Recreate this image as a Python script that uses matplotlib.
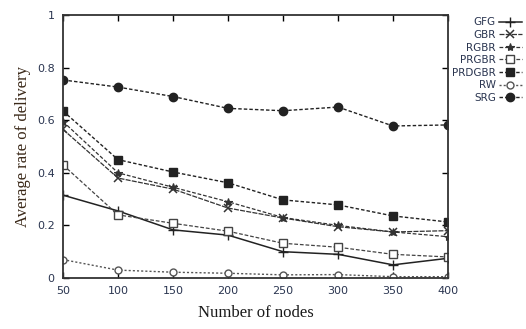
import matplotlib
matplotlib.use('Agg')
import matplotlib.pyplot as plt

nodes = [50, 100, 150, 200, 250, 300, 350, 400]
gfg = [0.315, 0.255, 0.183, 0.163, 0.100, 0.090, 0.050, 0.075]
gbr = [0.565, 0.380, 0.338, 0.266, 0.228, 0.195, 0.175, 0.180]
rgbr = [0.595, 0.400, 0.345, 0.290, 0.230, 0.200, 0.175, 0.157]
prgbr = [0.430, 0.240, 0.208, 0.178, 0.132, 0.117, 0.090, 0.080]
prdgbr = [0.635, 0.450, 0.403, 0.362, 0.297, 0.278, 0.236, 0.213]
rw = [0.070, 0.030, 0.022, 0.018, 0.012, 0.013, 0.005, 0.005]
srg = [0.753, 0.726, 0.690, 0.645, 0.636, 0.650, 0.578, 0.582]

xticks = [50, 100, 150, 200, 250, 300, 350, 400]
yticks = [0, 0.2, 0.4, 0.6, 0.8, 1]
yticklabels = ['0', '0.2', '0.4', '0.6', '0.8', '1']

narrow = ['Liberation Sans Narrow', 'DejaVu Sans']
txtcol = '#2a3550'

fig = plt.figure(figsize=(5.26, 3.29), dpi=100)
ax = fig.add_axes([63 / 526, 1 - 278 / 329, (448 - 63) / 526, (278 - 15) / 329])

ax.plot(nodes, gfg, color='#222222', lw=1.1, ls='-', marker='+', ms=7, mew=1, label='GFG')
ax.plot(nodes, gbr, color='#333333', lw=0.9, ls=(0, (4, 1)), marker='x', ms=6, mew=1.1, label='GBR')
ax.plot(nodes, rgbr, color='#333333', lw=0.9, ls=(0, (3, 1.5)), marker='*', ms=6, mew=0.8, label='RGBR')
ax.plot(nodes, prgbr, color='#444444', lw=0.9, ls=(0, (3, 1.5)), marker='s', ms=6, mfc='white', mew=1, label='PRGBR')
ax.plot(nodes, prdgbr, color='#222222', lw=1.0, ls=(0, (2.5, 1.5)), marker='s', ms=6, label='PRDGBR')
ax.plot(nodes, rw, color='#555555', lw=1.0, ls=(0, (1.5, 1.5)), marker='o', ms=5, mfc='white', mew=1, label='RW')
ax.plot(nodes, srg, color='#222222', lw=1.0, ls=(0, (2.5, 1.5)), marker='o', ms=6, label='SRG')

ax.set_xlim(50, 400)
ax.set_ylim(0, 1)
ax.set_xticks(xticks)
ax.set_yticks(yticks)
ax.set_yticklabels(yticklabels)
ax.tick_params(direction='in', top=True, right=True, length=4, width=1, pad=6,
               labelsize=8, labelcolor=txtcol)
for lab in ax.get_xticklabels() + ax.get_yticklabels():
    lab.set_family(narrow)
for s in ax.spines.values():
    s.set_linewidth(1.3)
    s.set_color('#333333')

ax.set_xlabel('Number of nodes', family='Liberation Serif', fontsize=12, labelpad=6,
              color='#1a1a1a')
ax.set_ylabel('Average rate of delivery', family='Liberation Serif', fontsize=12,
              color='#3a2818', labelpad=4)

leg = fig.legend(loc='upper right', bbox_to_anchor=(1.0, 0.96), markerfirst=False,
                 frameon=False, handlelength=2.2, handletextpad=0.3, labelspacing=0.25,
                 borderaxespad=0, prop={'family': narrow, 'size': 7.5})
for t in leg.get_texts():
    t.set_color(txtcol)

fig.savefig('out.png', dpi=100)
